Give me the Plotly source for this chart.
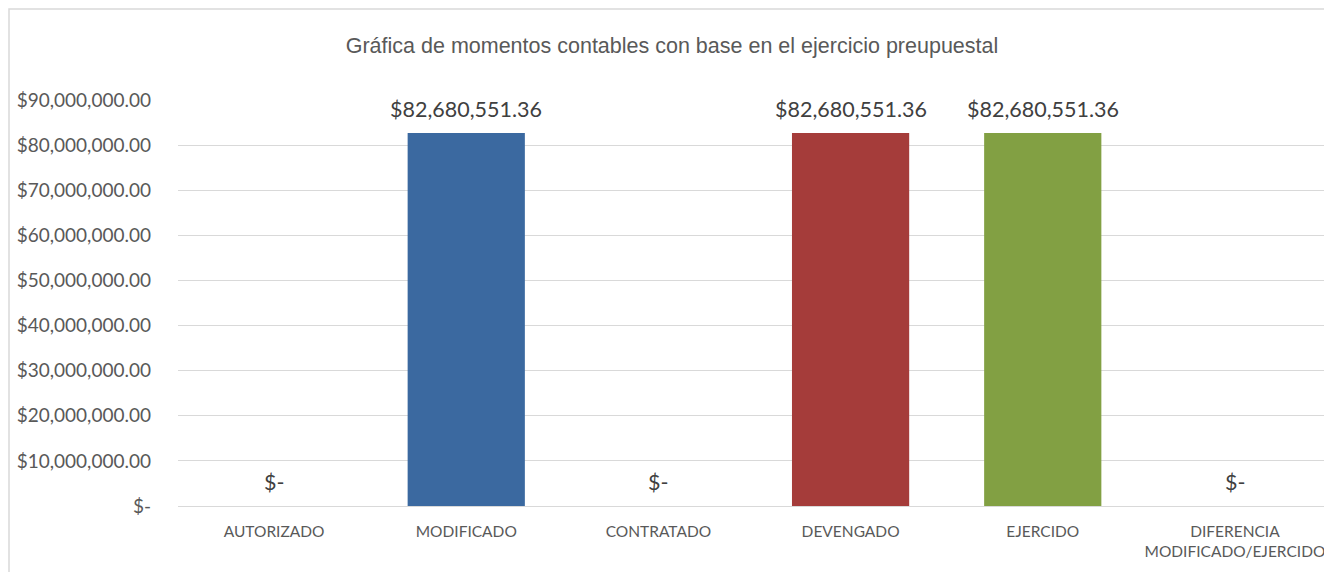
import plotly.graph_objects as go

categories = ["AUTORIZADO", "MODIFICADO", "CONTRATADO", "DEVENGADO", "EJERCIDO",
              "DIFERENCIA<br>MODIFICADO/EJERCIDO"]
values = [0, 82680551.36, 0, 82680551.36, 82680551.36, 0]
bar_colors = ["#3b69a0", "#3b69a0", "#a53c3a", "#a53c3a", "#82a043", "#82a043"]
tick_vals = [0, 10e6, 20e6, 30e6, 40e6, 50e6, 60e6, 70e6, 80e6, 90e6]
tick_text = ["$-"] + ["${:,.2f}".format(v) for v in tick_vals[1:]]
title_text = "Gráfica de momentos contables con base en el ejercicio preupuestal"


def fmt(v):
    return "$-" if v == 0 else "${:,.2f}".format(v)


# figure sized to fit the 1332x580 window with the page's 8px body margin
W, H = 1316, 564
L, R, T, B = 170, 0, 92, 66
pw, ph = W - L - R, H - T - B
cat_w = 1153 / 6.0  # pixel width of one category slot
x_hi = -0.5 + pw / cat_w

fig = go.Figure()
fig.add_trace(go.Bar(
    x=categories, y=values,
    marker=dict(color=bar_colors, line=dict(width=0)),
    width=0.61, hoverinfo="x+y",
))

annotations = []
for c, v in zip(categories, values):
    annotations.append(dict(
        x=c, y=v, xref="x", yref="y", text=fmt(v), showarrow=False,
        yanchor="bottom", yshift=9,
        font=dict(family="Lato, Noto Sans, sans-serif", size=21.5, color="#404040"),
    ))

fig.update_layout(
    width=W, height=H,
    margin=dict(l=L, r=R, t=T, b=B),
    paper_bgcolor="white", plot_bgcolor="white",
    showlegend=False,
    title=dict(text=title_text, x=664 / W, xref="container", xanchor="center",
               y=1 - 37 / H, yref="container", yanchor="middle",
               font=dict(family="Liberation Sans, Arial, sans-serif", size=21.5, color="#595959")),
    xaxis=dict(showgrid=False, showline=False, ticks="", ticklabelstandoff=14,
               range=[-0.5, x_hi],
               tickfont=dict(family="Lato, Noto Sans, sans-serif", size=15.5, color="#595959")),
    yaxis=dict(range=[0, 90e6], tickvals=tick_vals, ticktext=tick_text,
               showgrid=True, gridcolor="#d9d9d9", gridwidth=1.3,
               zeroline=True, zerolinecolor="#d9d9d9", zerolinewidth=1.3,
               showline=False, ticks="", ticklabelstandoff=26,
               tickfont=dict(family="Lato, Noto Sans, sans-serif", size=19, color="#595959")),
    annotations=annotations,
    shapes=[dict(type="rect", xref="paper", yref="paper",
                 x0=(1 - L) / pw, x1=(W + 20 - L) / pw,
                 y0=-(H + 20 - (T + ph)) / ph, y1=(T + ph - 1) / ph,
                 line=dict(color="#d9d9d9", width=1.5), fillcolor="rgba(0,0,0,0)", layer="below")],
)

fig.write_html("out.html")
